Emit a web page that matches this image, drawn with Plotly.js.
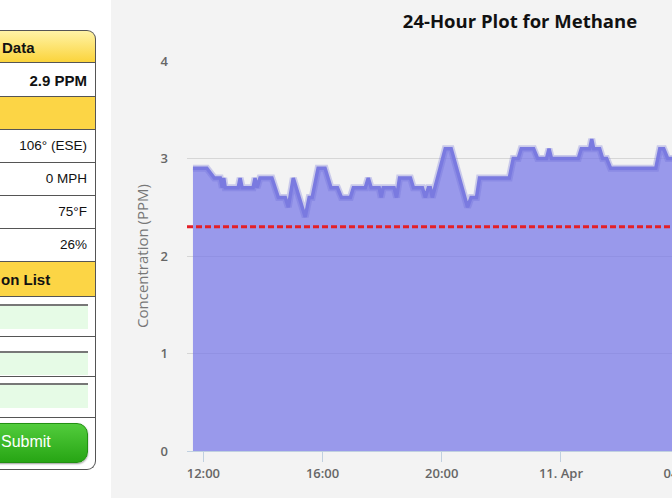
<!DOCTYPE html>
<html>
<head>
<meta charset="utf-8">
<script src="https://cdn.plot.ly/plotly-3.0.1.min.js"></script>
<style>
  html, body { margin:0; padding:0; width:672px; height:504px; overflow:hidden; background:#ffffff; }
  #panel { position:absolute; left:0; top:0; width:672px; height:504px; font-family:"Liberation Sans", Arial, sans-serif; }
  .row { position:absolute; left:-20px; width:116px; box-sizing:border-box; border-right:1px solid #555; border-bottom:1px solid #555; }
  .hdr { background:linear-gradient(#fff3a6, #fbd43c); font-weight:bold; font-size:15px; color:#111; }
  .ylw { background:#fcd545; font-weight:bold; font-size:15px; color:#111; }
  .wht { background:#ffffff; font-size:13.5px; color:#111; text-align:right; padding-right:8px; }
  .txt { position:absolute; white-space:nowrap; }
  .inp { position:absolute; left:0; width:88px; background:#e6fbe6; border-top:2px solid #777; box-sizing:border-box; }
  #btn { position:absolute; left:-40px; width:128px; top:423px; height:40px; border-radius:11px; background:linear-gradient(#52cc3c, #27a514); border:1px solid #229012; box-sizing:border-box; box-shadow:0 1px 2px rgba(0,0,0,0.4); }
  #plot { position:absolute; left:111px; top:0; width:818px; height:498px; }
</style>
</head>
<body>
<div id="panel">
  <div class="row hdr" style="top:30px;height:33px;border-top:1px solid #555;border-top-right-radius:9px;"><span class="txt" style="left:22px;top:8px;">Data</span></div>
  <div class="row wht" style="top:63px;height:34px;"><span class="txt" style="right:8px;top:9px;font-weight:bold;font-size:15px;">2.9 PPM</span></div>
  <div class="row ylw" style="top:97px;height:33px;"></div>
  <div class="row wht" style="top:130px;height:33px;"><span class="txt" style="right:8px;top:8px;">106° (ESE)</span></div>
  <div class="row wht" style="top:163px;height:33px;"><span class="txt" style="right:8px;top:8px;">0 MPH</span></div>
  <div class="row wht" style="top:196px;height:33px;"><span class="txt" style="right:8px;top:8px;">75°F</span></div>
  <div class="row wht" style="top:229px;height:33px;"><span class="txt" style="right:8px;top:8px;">26%</span></div>
  <div class="row ylw" style="top:262px;height:35px;"><span class="txt" style="left:21px;top:9px;">on List</span></div>
  <div class="row wht" style="top:297px;height:40px;"></div>
  <div class="row wht" style="top:337px;height:40px;"></div>
  <div class="row wht" style="top:377px;height:41px;"></div>
  <div class="row wht" style="top:418px;height:52px;border-bottom-right-radius:9px;"></div>
  <div class="inp" style="top:304px;height:25px;"></div>
  <div class="inp" style="top:351px;height:24px;"></div>
  <div class="inp" style="top:383px;height:25px;"></div>
  <div id="btn"><span class="txt" style="left:40px;top:9px;color:#fff;font-size:16px;">Submit</span></div>
  <div id="plot"></div>
</div>
<script>
// Methane concentration (PPM) over 24 hours
const times = [
  '2013-04-10 11:39','2013-04-10 12:07','2013-04-10 12:22','2013-04-10 12:34','2013-04-10 12:38',
  '2013-04-10 12:41','2013-04-10 12:44','2013-04-10 13:10','2013-04-10 13:14','2013-04-10 13:18',
  '2013-04-10 13:40','2013-04-10 13:44','2013-04-10 13:48','2013-04-10 13:54','2013-04-10 14:18',
  '2013-04-10 14:31','2013-04-10 14:45','2013-04-10 14:51','2013-04-10 15:01','2013-04-10 15:25',
  '2013-04-10 15:33','2013-04-10 15:39','2013-04-10 15:51','2013-04-10 16:05','2013-04-10 16:17',
  '2013-04-10 16:30','2013-04-10 16:38','2013-04-10 16:56','2013-04-10 17:02','2013-04-10 17:26',
  '2013-04-10 17:32','2013-04-10 17:38','2013-04-10 17:54','2013-04-10 17:58','2013-04-10 18:02',
  '2013-04-10 18:24','2013-04-10 18:29','2013-04-10 18:35','2013-04-10 18:57','2013-04-10 19:03',
  '2013-04-10 19:21','2013-04-10 19:27','2013-04-10 19:33','2013-04-10 19:37','2013-04-10 19:41',
  '2013-04-10 20:07','2013-04-10 20:19','2013-04-10 20:47','2013-04-10 20:52','2013-04-10 20:59',
  '2013-04-10 21:10','2013-04-10 21:16','2013-04-10 22:16','2013-04-10 22:24','2013-04-10 22:34',
  '2013-04-10 22:40','2013-04-10 23:05','2013-04-10 23:13','2013-04-10 23:31','2013-04-10 23:36',
  '2013-04-10 23:41','2013-04-11 00:35','2013-04-11 00:41','2013-04-11 00:58','2013-04-11 01:02',
  '2013-04-11 01:06','2013-04-11 01:18','2013-04-11 01:24','2013-04-11 01:32','2013-04-11 01:40',
  '2013-04-11 03:11','2013-04-11 03:19','2013-04-11 03:27','2013-04-11 03:35','2013-04-11 04:41'
];
const methane = [
  2.9,2.9,2.8,2.8,2.7,
  2.8,2.7,2.7,2.8,2.7,
  2.7,2.8,2.7,2.8,2.8,
  2.6,2.6,2.5,2.8,2.4,
  2.6,2.6,2.9,2.9,2.7,
  2.7,2.6,2.6,2.7,2.7,
  2.8,2.7,2.7,2.6,2.7,
  2.7,2.6,2.8,2.8,2.7,
  2.7,2.6,2.7,2.7,2.6,
  3.1,3.1,2.6,2.5,2.6,
  2.6,2.8,2.8,3.0,3.0,
  3.1,3.1,3.0,3.0,3.1,
  3.0,3.0,3.1,3.1,3.2,
  3.1,3.1,3.0,3.0,2.9,
  2.9,3.1,3.1,3.0,3.0
];
const threshold = 2.3;
const xRange = ['2013-04-10 11:27','2013-04-11 11:51'];
const xTickVals = ['2013-04-10 12:00','2013-04-10 16:00','2013-04-10 20:00','2013-04-11 00:00','2013-04-11 04:00','2013-04-11 08:00'];
const xTickText = ['12:00','16:00','20:00','11. Apr','04:00','08:00'];
const yTickVals = [0,1,2,3,4];
const titleText = '24-Hour Plot for Methane';
const yTitleText = 'Concentration (PPM)';

const traces = [
  { x: times, y: methane, type:'scatter', mode:'lines', fill:'tozeroy',
    fillcolor:'rgba(118,118,232,0.72)', line:{color:'rgba(110,110,215,0.3)', width:7}, hoverinfo:'skip' },
  { x: times, y: methane, type:'scatter', mode:'lines',
    line:{color:'rgb(122,122,224)', width:3.5} }
];

const layout = {
  width: 818, height: 498,
  margin: {l:76, r:15, t:61, b:47},
  paper_bgcolor:'#f3f3f3', plot_bgcolor:'rgba(0,0,0,0)',
  showlegend:false,
  title: { text: titleText, x:0.5, xref:'container', y: 1 - 22/498, yref:'container', yanchor:'middle',
           font:{family:'Open Sans', size:18.5, weight:700, color:'#111'} },
  xaxis: { type:'date', range: xRange, tickmode:'array', tickvals: xTickVals, ticktext: xTickText,
           showgrid:false, showline:true, linecolor:'#c0d0e0', linewidth:1,
           ticks:'outside', ticklen:10, tickcolor:'#c0d0e0', tickwidth:1,
           tickfont:{family:'Open Sans', size:13, weight:600, color:'#666'}, zeroline:false, fixedrange:true },
  yaxis: { range:[0,4], tickmode:'array', tickvals: yTickVals, showgrid:true, gridcolor:'#d6d6d6', gridwidth:1,
           zeroline:false, showline:false, ticks:'', ticklabelstandoff: 18,
           tickfont:{family:'Open Sans', size:13, weight:600, color:'#666'},
           title:{ text: yTitleText, standoff: 8, font:{family:'Open Sans', size:15, color:'#777'} } },
  shapes: [ { type:'line', xref:'paper', x0:0, x1:1, yref:'y', y0:threshold, y1:threshold,
              line:{color:'#e41f26', width:3, dash:'6px,3px'}, layer:'above' } ]
};

Plotly.newPlot('plot', traces, layout, {displayModeBar:false, staticPlot:true});
</script>
</body>
</html>
